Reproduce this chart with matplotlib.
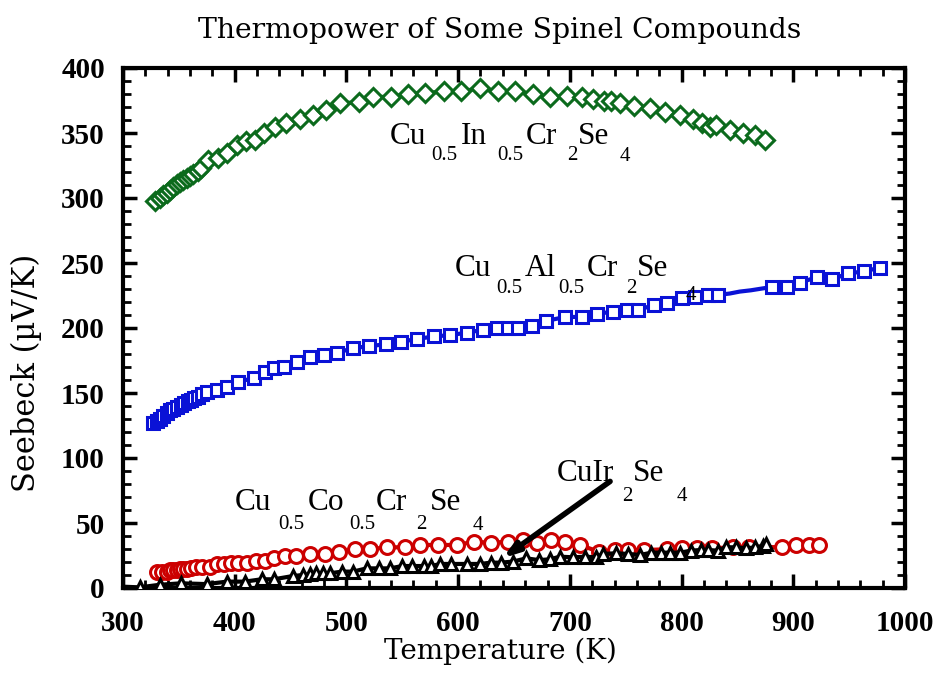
import matplotlib
matplotlib.use("Agg")
import matplotlib.pyplot as plt
from matplotlib.ticker import MultipleLocator

# ---------------- data ----------------
T_in = [329, 333, 336, 339, 342, 345, 348, 351, 354, 357, 360, 363, 367, 370, 376, 385, 393, 402, 410, 418,
        426, 436, 446, 458, 470, 482, 494, 511, 524, 540, 555, 570, 587, 603, 620, 636, 651, 667, 682, 697,
        711, 721, 731, 737, 745, 757, 772, 785, 799, 810, 818, 825, 831, 843, 855, 866, 875]
S_in = [298, 300, 302, 304, 306, 308.5, 310.5, 312, 314, 315.5, 317, 318.5, 321, 323, 329, 330.5, 334.5, 341, 344, 344.5,
        350, 355, 357.5, 361, 364, 368, 373, 373.5, 378, 377.5, 380, 380.5, 382, 382, 384.5, 382, 382, 380, 377.5, 378.5,
        377.5, 376, 375, 375, 373, 371, 369.5, 366.5, 364, 360.5, 357.5, 355, 356, 352.5, 350, 348.5, 344.5]

T_al = [327, 330, 333, 336, 339, 342, 345, 348, 352, 355, 358, 361, 364, 367, 371, 375, 384, 393, 403, 417,
        427, 435, 444, 456, 467, 480, 492, 506, 520, 535, 549, 563, 578, 593, 608, 622, 635, 645, 654, 666,
        679, 696, 711, 724, 739, 751, 761, 775, 787, 800, 812, 824, 833, 843, 852, 862, 873, 881, 894, 906,
        921, 935, 949, 963, 978]
S_al = [127, 128.5, 130, 132, 134.5, 137, 138, 139.5, 141, 142, 143.5, 145, 146, 147, 149, 151, 152.5, 155, 158.5, 161.5,
        166, 169, 170, 173.5, 178, 179, 181, 184.5, 186, 187.5, 189.5, 191.5, 193.5, 194.5, 196.5, 198.5, 200, 200, 200, 201.5,
        205.5, 208.5, 208.5, 211, 212.5, 214, 214, 217.5, 219.5, 223, 224, 225.5, 225.5, 226.5, 228, 229, 230.5, 231.5, 231.5, 235,
        239, 237.5, 242, 243.5, 246.5]
AL_NO_MARKER = [843, 852, 862, 873]

T_co = [330, 335, 339, 342, 345, 348, 351, 354, 357, 361, 365, 371, 378, 384, 390, 397, 403, 411, 419, 427,
        435, 445, 455, 467, 481, 493, 508, 521, 536, 552, 566, 582, 599, 614, 629, 645, 658, 671, 683, 696,
        709, 726, 740, 752, 766, 787, 800, 814, 827, 846, 860, 890, 902, 914, 923]
S_co = [12.6, 12.6, 12.6, 13.5, 13.8, 14, 14.4, 14.4, 14.4, 15.5, 16.4, 16.4, 16.4, 18.5, 18.5, 19.5, 19.5, 19.5, 21, 21,
        22.8, 24.6, 24.6, 26.2, 26.2, 27.9, 29.8, 29.8, 31.3, 31.3, 33.1, 33.1, 33.1, 35.6, 34.8, 35.6, 36.9, 34.8, 36.9, 35.6,
        33.1, 27.9, 29, 29.2, 29.2, 29.8, 30.5, 30.5, 30.5, 31.3, 31.8, 31.3, 33.1, 33.1, 33.1]

T_ir = [300, 315, 333, 352, 375, 393, 409, 424, 435, 452, 461, 467, 473, 479, 485, 496, 506, 518, 529, 539,
        550, 559, 569, 576, 584, 594, 608, 620, 629, 638, 649, 661, 672, 682, 691, 703, 714, 723, 730, 741,
        752, 763, 773, 782, 790, 799, 808, 817, 824, 833, 840, 849, 858, 866, 873, 876]
S_ir = [1, 0.5, 2.5, 3.6, 3, 4.9, 4.9, 6.7, 6.7, 9.2, 10, 10.5, 11.3, 11.3, 11.3, 12.6, 12.6, 15.1, 15.1, 15.1,
        16.9, 16.9, 16.9, 16.9, 18.5, 18.5, 18.5, 18.5, 19.5, 19.5, 20.3, 22.8, 21.5, 22, 24.1, 23.6, 24.1, 23.6, 26.2, 26.7,
        26.2, 25.4, 27.2, 27.2, 27.2, 27.2, 28.7, 29.2, 29.2, 28.7, 31.3, 31.3, 30.5, 31.3, 32.3, 34]
IR_NO_MARKER = [300]

title = "Thermopower of Some Spinel Compounds"
xlabel = "Temperature (K)"
ylabel = "Seebeck (µV/K)"
x_ticks = [300, 400, 500, 600, 700, 800, 900, 1000]
y_ticks = [0, 50, 100, 150, 200, 250, 300, 350, 400]

# ---------------- style ----------------
SERIF = "DejaVu Serif"
NARROW = "Liberation Serif"
GREEN = "#0b6a1c"
BLUE = "#0a12d6"
RED = "#cc0000"

fig = plt.figure(figsize=(9.38, 6.82), dpi=100)
ax = fig.add_axes([123 / 938, 1 - 588 / 682, 782 / 938, 520 / 682])


def keep(T, excluded):
    return [i for i, t in enumerate(T) if t not in excluded]


ax.plot(T_in, S_in, color=GREEN, lw=3, marker="D", ms=9.5, mfc="white", mec=GREEN, mew=2.2, zorder=3)
ax.plot(T_al, S_al, color=BLUE, lw=3, marker="s", ms=8.5, mfc="white", mec=BLUE, mew=2.2,
        markevery=keep(T_al, AL_NO_MARKER), zorder=3)
ax.plot(T_co, S_co, color=RED, lw=3, marker="o", ms=10, mfc="white", mec=RED, mew=2.2, zorder=3)
ax.plot(T_ir, S_ir, color="black", lw=3, marker="^", ms=9, mfc="white", mec="black", mew=2.2,
        markevery=keep(T_ir, IR_NO_MARKER), zorder=4)

ax.set_xlim(300, 1000)
ax.set_ylim(0, 400)
ax.set_xticks(x_ticks)
ax.set_yticks(y_ticks)
ax.xaxis.set_minor_locator(MultipleLocator(20))
ax.yaxis.set_minor_locator(MultipleLocator(10))
ax.tick_params(which="both", direction="in", top=True, right=True)
ax.tick_params(which="major", length=10, width=2.5)
ax.tick_params(which="minor", length=6, width=2)
ax.tick_params(axis="x", pad=15.5)
ax.tick_params(axis="y", pad=13)
for lab in ax.get_xticklabels() + ax.get_yticklabels():
    lab.set_fontfamily(NARROW)
    lab.set_fontweight("bold")
    lab.set_fontsize(21)
for sp in ax.spines.values():
    sp.set_linewidth(3)

ax.set_xlabel(xlabel, fontsize=20, family=SERIF)
ax.xaxis.set_label_coords(0.483, -0.096)
ax.set_ylabel(ylabel, fontsize=22, family=SERIF)
ax.yaxis.set_label_coords(-0.104, 0.414)
fig.text(0.533, 1 - 38 / 682, title, fontsize=20.3, family=SERIF, ha="center", va="baseline")

MAIN_SIZE = 22.5
SUB_SIZE = 15
DESC_PX = 0.217 * MAIN_SIZE * 100 / 72   # descent of the main font below its baseline, px
PT = 0.72                                 # points per pixel at 100 dpi


def formula(x, y, parts):
    """parts: first string, then (text, gap_px, is_sub, drop_px) tuples"""
    first = ax.text(x, y, parts[0], fontsize=MAIN_SIZE, family=NARROW, va="baseline", ha="left", zorder=6)
    prev_main = first
    prev = first
    for txt, gap, sub, drop in parts[1:]:
        if sub:
            a = ax.annotate(txt, xy=(1, 0), xycoords=prev_main, xytext=(gap * PT, (DESC_PX - drop) * PT),
                            textcoords="offset points", fontsize=SUB_SIZE, family=NARROW,
                            va="top", ha="left", zorder=6)
        else:
            a = ax.annotate(txt, xy=(1, 0), xycoords=(prev, first), xytext=(gap * PT, 0),
                            textcoords="offset points", fontsize=MAIN_SIZE, family=NARROW,
                            va="bottom", ha="left", zorder=6)
            prev_main = a
        prev = a


formula(539, 341.5, ["Cu", ("0.5", 5, True, 2), ("In", 3, False, 0), ("0.5", 11, True, 2),
                     ("Cr", 2, False, 0), ("2", 10, True, 2), ("Se", 0, False, 0), ("4", 11, True, 3)])
formula(597, 240, ["Cu", ("0.5", 5, True, 3), ("Al", 2, False, 0), ("0.5", 3, True, 3),
                   ("Cr", 2, False, 0), ("2", 8, True, 3), ("Se", 0, False, 0), ("4", 18, True, 10)])
formula(400, 60, ["Cu", ("0.5", 7, True, 5), ("Co", 3, False, 0), ("0.5", 5, True, 5),
                  ("Cr", 1, False, 0), ("2", 9, True, 5), ("Se", 3, False, 0), ("4", 12, True, 6)])
formula(688.5, 82.3, ["CuIr", ("2", 8, True, 6), ("Se", 0, False, 0), ("4", 12, True, 6)])

ax.annotate("", xy=(640, 23), xytext=(736, 82),
            arrowprops=dict(arrowstyle="-|>,head_length=0.9,head_width=0.3", lw=4, color="black",
                            shrinkA=0, shrinkB=0), zorder=7)

fig.savefig("out.png", dpi=100)
